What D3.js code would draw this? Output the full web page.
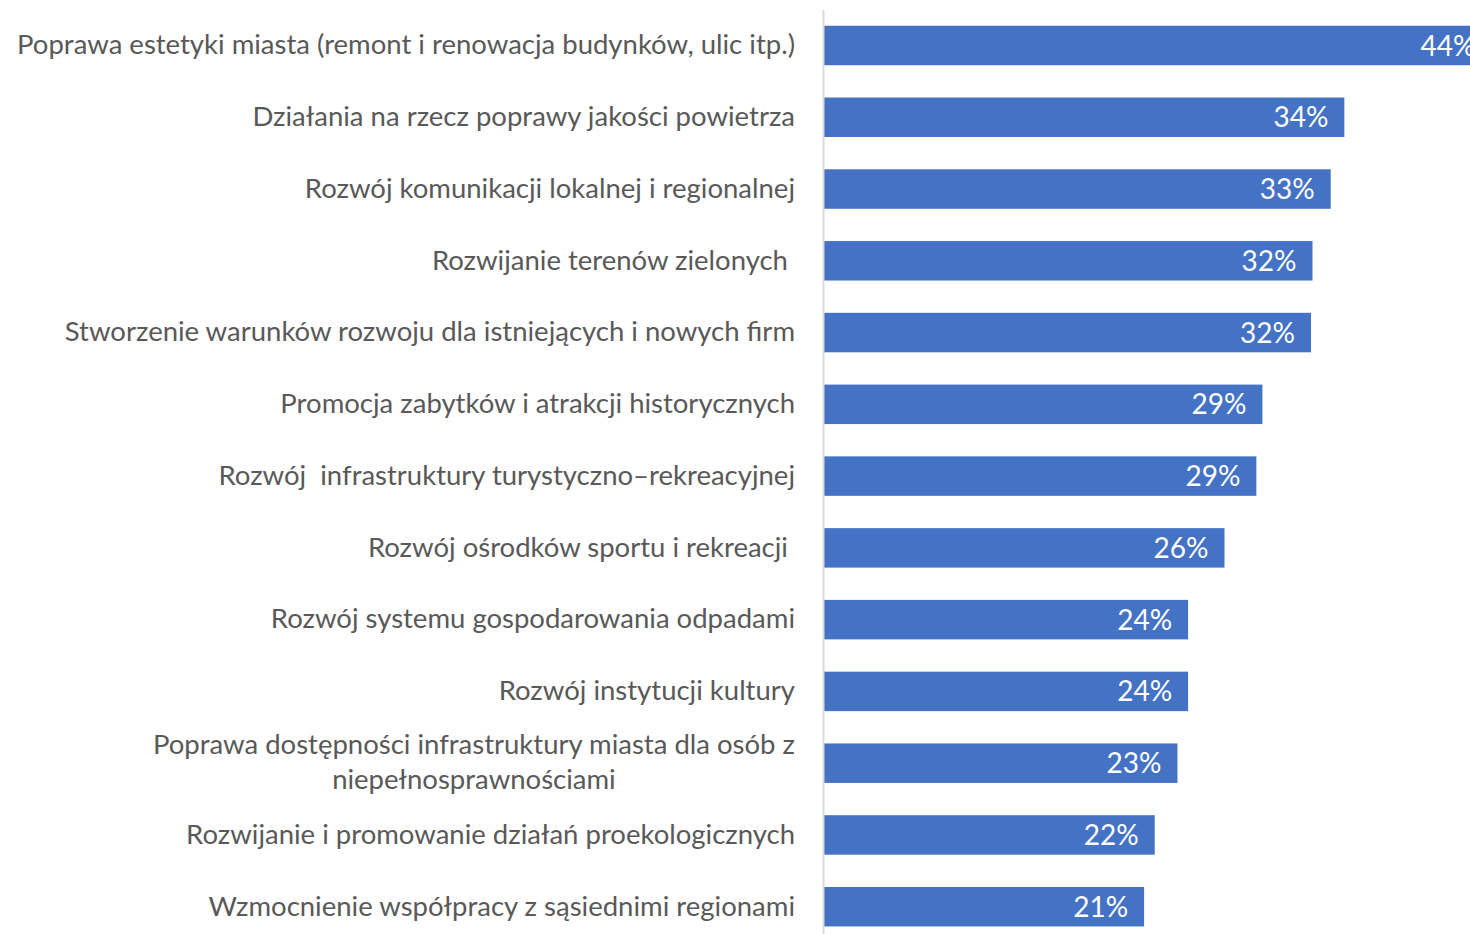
<!DOCTYPE html>
<html>
<head>
<meta charset="utf-8">
<script src="https://cdn.jsdelivr.net/npm/d3@7"></script>
<style>
  body { margin: 0; background: #fff; }
  svg text { white-space: pre; }
</style>
</head>
<body>
<div id="chart"></div>
<script>
// categories (top to bottom) and shares in percent
const categories = [
    "Poprawa estetyki miasta (remont i renowacja budynków, ulic itp.)",
    "Działania na rzecz poprawy jakości powietrza",
    "Rozwój komunikacji lokalnej i regionalnej",
    "Rozwijanie terenów zielonych ",
    "Stworzenie warunków rozwoju dla istniejących i nowych firm",
    "Promocja zabytków i atrakcji historycznych",
    "Rozwój  infrastruktury turystyczno\u2013rekreacyjnej",
    "Rozwój ośrodków sportu i rekreacji ",
    "Rozwój systemu gospodarowania odpadami",
    "Rozwój instytucji kultury",
    "Poprawa dostępności infrastruktury miasta dla osób z\nniepełnosprawnościami",
    "Rozwijanie i promowanie działań proekologicznych",
    "Wzmocnienie współpracy z sąsiednimi regionami"
];
const values = [44.0, 34.3, 33.4, 32.2, 32.1, 28.9, 28.5, 26.4, 24.0, 24.0, 23.3, 21.8, 21.1];
const valueLabels = ["44%", "34%", "33%", "32%", "32%", "29%", "29%", "26%", "24%", "24%", "23%", "22%", "21%"];

const width = 1470;
const height = 934;
const margin = { left: 824, top: 9.6 };
const font = "Lato, 'Open Sans', sans-serif";

const data = categories.map((c, i) => ({ cat: c, value: values[i], label: valueLabels[i] }));

const xScale = d3.scaleLinear().domain([0, 44]).range([margin.left, 1491.5]);
const yScale = d3.scaleBand()
    .domain(categories)
    .range([margin.top, 942.6])
    .paddingInner(0.45)
    .paddingOuter(0.225);

const svg = d3.select("#chart").append("svg")
    .attr("width", width).attr("height", height);

// bars
svg.append("g").selectAll("rect")
    .data(data)
    .join("rect")
    .attr("x", xScale(0))
    .attr("y", d => yScale(d.cat))
    .attr("width", d => xScale(d.value) - xScale(0))
    .attr("height", yScale.bandwidth())
    .attr("fill", "#4472C4");

// value labels inside bar ends
svg.append("g").selectAll("text")
    .data(data)
    .join("text")
    .attr("x", d => xScale(d.value) - 16)
    .attr("y", d => yScale(d.cat) + yScale.bandwidth() / 2)
    .attr("dy", "0.36em")
    .attr("text-anchor", "end")
    .attr("fill", "#fff")
    .attr("font-family", font)
    .attr("font-size", 28)
    .text(d => d.label);

// category axis
const axis = svg.append("g")
    .attr("transform", `translate(${margin.left - 1},0)`)
    .call(d3.axisLeft(yScale).tickSize(0).tickPadding(28));
axis.select(".domain").attr("stroke", "#d9d9d9").attr("stroke-width", 2);
axis.selectAll(".tick text")
    .attr("fill", "#595959")
    .attr("font-family", font)
    .attr("font-size", 27.5)
    .each(function(d) {
        const lines = d.split("\n");
        if (lines.length < 2) return;
        // wrapped label: lines centred on each other, block right-aligned
        const t = d3.select(this).text(null).attr("text-anchor", "middle");
        const spans = lines.map((ln, i) =>
            t.append("tspan").attr("dy", i === 0 ? "-0.34em" : "1.27em").text(ln));
        const w = d3.max(spans, s => s.node().getComputedTextLength());
        spans.forEach(s => s.attr("x", -28 - w / 2));
    });
</script>
</body>
</html>
